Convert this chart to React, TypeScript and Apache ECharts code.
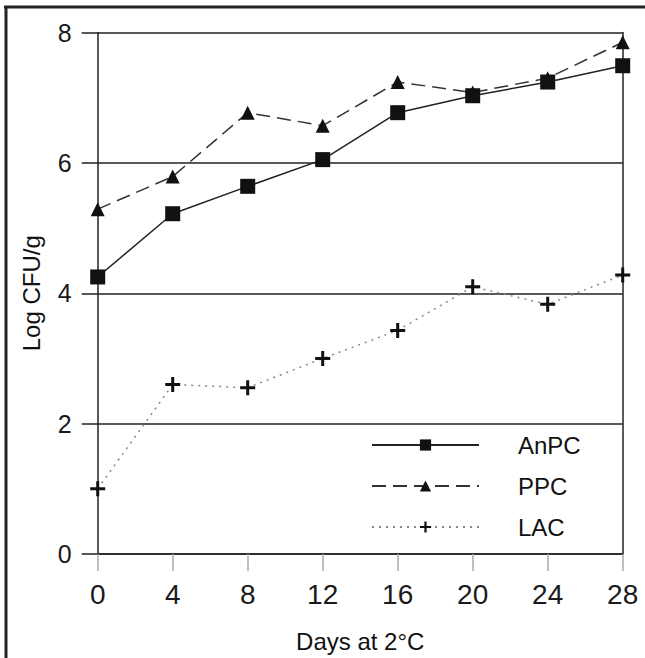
import React, { useEffect, useRef } from "react";
import * as echarts from "echarts";

const days = [0, 4, 8, 12, 16, 20, 24, 28];
const anpc = [4.25, 5.22, 5.64, 6.05, 6.77, 7.03, 7.24, 7.49];
const ppc = [5.29, 5.79, 6.77, 6.57, 7.24, 7.08, 7.3, 7.85];
const lac = [1.0, 2.6, 2.55, 3.0, 3.43, 4.1, 3.83, 4.28];
const seriesNames = ["AnPC", "PPC", "LAC"];

const PLUS = "path://M4,0 L6,0 L6,4 L10,4 L10,6 L6,6 L6,10 L4,10 L4,6 L0,6 L0,4 L4,4 Z";
const FONT = "'Liberation Sans', Arial, Helvetica, sans-serif";

export default function App() {
  const ref = useRef<HTMLDivElement>(null);
  useEffect(() => {
    document.body.style.margin = "0";
    const chart = echarts.init(ref.current!, null, { renderer: "svg" });
    const pair = (vals: number[]) => days.map((d, i) => [d, vals[i]]);
    chart.setOption({
      animation: false,
      backgroundColor: "#ffffff",
      textStyle: { fontFamily: FONT },
      grid: { left: 97.7, right: 22.3, top: 32.5, bottom: 93 },
      xAxis: {
        type: "value",
        min: 0,
        max: 28,
        interval: 4,
        name: "Days at 2°C",
        nameLocation: "middle",
        nameGap: 75,
        nameTextStyle: { fontSize: 24, color: "#111", fontFamily: FONT },
        axisLine: { show: true, lineStyle: { color: "#222", width: 1.5 } },
        axisTick: { show: true, inside: false, length: 17, lineStyle: { color: "#aaa", width: 1.5 } },
        axisLabel: { fontSize: 28, color: "#1a1a1a", margin: 26, fontFamily: FONT },
        splitLine: { show: false },
      },
      yAxis: [
        {
          type: "value",
          min: 0,
          max: 8,
          interval: 2,
          name: "Log CFU/g",
          nameLocation: "middle",
          nameRotate: 90,
          nameGap: 54,
          nameTextStyle: { fontSize: 24, color: "#111", fontFamily: FONT },
          axisLine: { show: true, lineStyle: { color: "#222", width: 1.5 } },
          axisTick: { show: true, inside: false, length: 16, lineStyle: { color: "#222", width: 1.5 } },
          axisLabel: { fontSize: 25, color: "#1a1a1a", margin: 26, fontFamily: FONT },
          splitLine: { show: true, lineStyle: { color: "#222", width: 1.5 } },
        },
        {
          type: "value",
          min: 0,
          max: 8,
          interval: 2,
          position: "right",
          axisLine: { show: true, lineStyle: { color: "#222", width: 1.5 } },
          axisTick: { show: false },
          axisLabel: { show: false },
          splitLine: { show: false },
        },
      ],
      legend: {
        orient: "vertical",
        left: 366,
        top: 428,
        itemWidth: 107,
        itemHeight: 14,
        itemGap: 17,
        data: seriesNames,
        textStyle: { fontSize: 24, color: "#111", fontFamily: FONT, padding: [0, 0, 0, 34] },
      },
      series: [
        {
          name: seriesNames[0],
          type: "line",
          data: pair(anpc),
          symbol: "rect",
          symbolSize: 15,
          itemStyle: { color: "#111" },
          lineStyle: { color: "#222", width: 1.5, type: "solid" },
          z: 4,
        },
        {
          name: seriesNames[1],
          type: "line",
          data: pair(ppc),
          symbol: "triangle",
          symbolSize: 14,
          itemStyle: { color: "#111" },
          lineStyle: { color: "#333", width: 1.5, type: [14, 7] },
          z: 3,
        },
        {
          name: seriesNames[2],
          type: "line",
          data: pair(lac),
          symbol: PLUS,
          symbolSize: 15,
          itemStyle: { color: "#111" },
          lineStyle: { color: "#888", width: 1.5, type: [2, 5] },
          z: 2,
        },
      ],
      graphic: [
        { type: "line", shape: { x1: 4, y1: 7, x2: 645, y2: 7 }, style: { stroke: "#222", lineWidth: 3 } },
        { type: "line", shape: { x1: 6, y1: 7, x2: 6, y2: 658 }, style: { stroke: "#222", lineWidth: 3 } },
      ],
    });
    return () => chart.dispose();
  }, []);
  return <div ref={ref} style={{ width: 645, height: 658 }} />;
}
